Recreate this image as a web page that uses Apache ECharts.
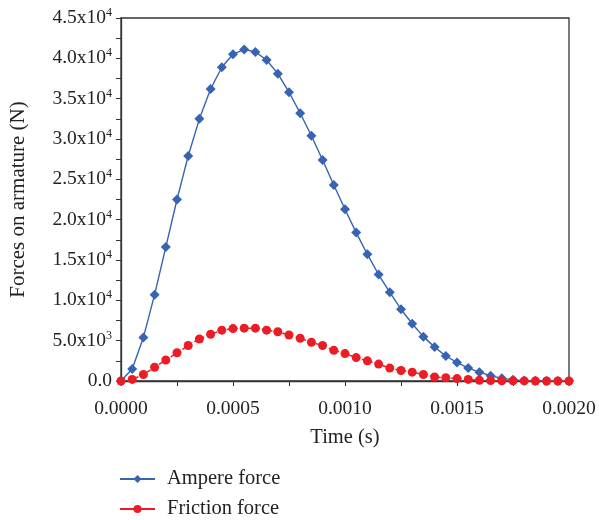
<!DOCTYPE html>
<html>
<head>
<meta charset="utf-8">
<script src="https://cdn.jsdelivr.net/npm/echarts@6/dist/echarts.min.js"></script>
<style>html,body{margin:0;padding:0;background:#fff;}#c{width:599px;height:520px;}</style>
</head>
<body>
<div id="c"></div>
<script>
const timeStep = 0.00005;
const ampereForce = [0, 1500, 5400, 10700, 16600, 22500, 27900, 32500, 36200, 38900, 40500, 41100, 40800, 39800, 38100, 35800, 33200, 30400, 27400, 24300, 21300, 18400, 15700, 13200, 11000, 8900, 7100, 5500, 4200, 3100, 2300, 1600, 1100, 650, 330, 160, 50, 20, 10, 0, 0];
const frictionForce = [0, 200, 800, 1700, 2600, 3500, 4400, 5200, 5800, 6300, 6500, 6550, 6550, 6300, 6100, 5700, 5300, 4800, 4400, 3800, 3400, 2900, 2500, 2100, 1600, 1300, 1100, 800, 500, 400, 300, 200, 100, 50, 30, 20, 10, 0, 0, 0, 0];
const yTickLabels = {0:'0.0', 5000:'5.0x10{s|3}', 10000:'1.0x10{s|4}', 15000:'1.5x10{s|4}', 20000:'2.0x10{s|4}', 25000:'2.5x10{s|4}', 30000:'3.0x10{s|4}', 35000:'3.5x10{s|4}', 40000:'4.0x10{s|4}', 45000:'4.5x10{s|4}'};

const times = ampereForce.map((_, i) => +(i * timeStep).toFixed(5));
const font = 'Liberation Serif';
const blue = '#3763b3';
const red = '#ec1c24';

const chart = echarts.init(document.getElementById('c'), null, {renderer: 'canvas'});
chart.setOption({
  animation: false,
  backgroundColor: '#fff',
  textStyle: {fontFamily: font, color: '#222'},
  grid: {left: 119, right: 30, top: 18, bottom: 139, show: true, borderColor: '#333', borderWidth: 1.3},
  legend: {
    orient: 'vertical', left: 117, bottom: -2, itemWidth: 35, itemHeight: 10, itemGap: 8, padding: 2,
    lineStyle: {type: 'solid'},
    textStyle: {fontFamily: font, fontSize: 20.5, lineHeight: 22, color: '#222', padding: [0, 0, 0, 7]},
    data: ['Ampere force', 'Friction force']
  },
  xAxis: {
    type: 'value', min: 0, max: 0.002, interval: 0.0005,
    name: 'Time (s)', nameLocation: 'middle', nameGap: 46,
    nameTextStyle: {fontFamily: font, fontSize: 20.5, color: '#222'},
    axisLine: {lineStyle: {color: '#333', width: 1.3}},
    axisTick: {show: true, length: 5, lineStyle: {color: '#333'}},
    minorTick: {show: true, splitNumber: 2, length: 5, lineStyle: {color: '#333'}},
    splitLine: {show: false},
    axisLabel: {fontFamily: font, fontSize: 19.5, color: '#222', margin: 18, formatter: v => v.toFixed(4)}
  },
  yAxis: {
    type: 'value', min: 0, max: 45000, interval: 5000,
    name: 'Forces on armature (N)', nameLocation: 'middle', nameGap: 92, nameRotate: 90,
    nameTextStyle: {fontFamily: font, fontSize: 21, color: '#222'},
    axisLine: {show: true, lineStyle: {color: '#333', width: 1.3}},
    axisTick: {show: true, length: 5, lineStyle: {color: '#333'}},
    minorTick: {show: true, splitNumber: 2, length: 5, lineStyle: {color: '#333'}},
    splitLine: {show: false},
    axisLabel: {
      fontFamily: font, fontSize: 19.5, color: '#222', margin: 9,
      formatter: v => yTickLabels[v] !== undefined ? yTickLabels[v] : '',
      rich: {s: {fontFamily: font, fontSize: 12, color: '#222', padding: [0, 0, 10, 0]}}
    }
  },
  series: [
    {
      name: 'Ampere force', type: 'line', data: times.map((t, i) => [t, ampereForce[i]]),
      symbol: 'diamond', symbolSize: 10, itemStyle: {color: blue},
      lineStyle: {color: blue, width: 1.4}, z: 3
    },
    {
      name: 'Friction force', type: 'line', data: times.map((t, i) => [t, frictionForce[i]]),
      symbol: 'circle', symbolSize: 9, itemStyle: {color: red},
      lineStyle: {color: red, width: 1.5, type: [4, 3]}, z: 4
    }
  ]
});
</script>
</body>
</html>
